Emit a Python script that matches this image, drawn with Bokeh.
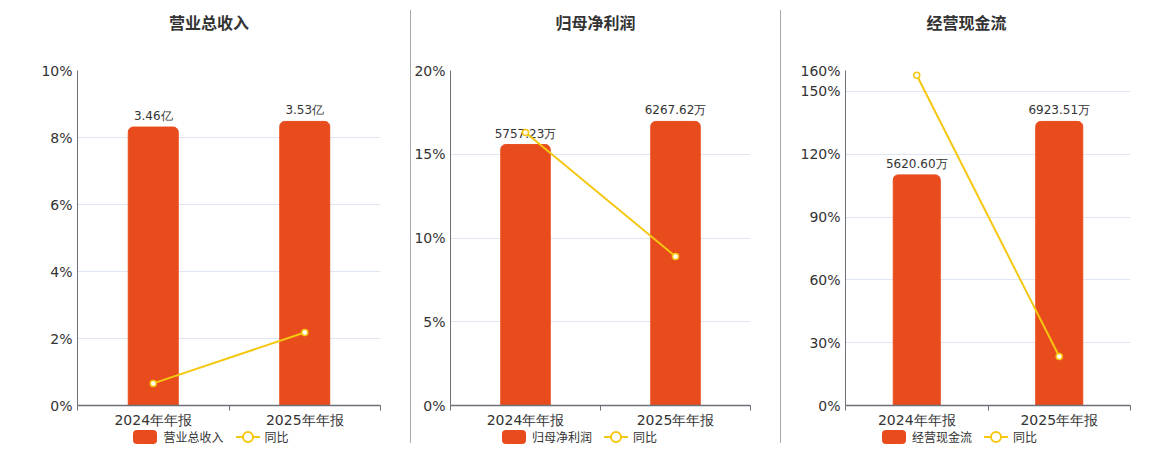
from bokeh.plotting import figure
from bokeh.layouts import row, column
from bokeh.models import (ColumnDataSource, Range1d, FixedTicker,
                          PrintfTickFormatter, Div)
from bokeh.embed import file_html
from bokeh.resources import INLINE

# ---------------- data ----------------
categories = ["2024年年报", "2025年年报"]

titles = ["营业总收入", "归母净利润", "经营现金流"]
yoy_name = "同比"

revenue = [3.46, 3.53]            # 亿
revenue_labels = ["3.46亿", "3.53亿"]
revenue_yoy = [0.66, 2.18]        # %

profit = [5757.23, 6267.62]       # 万
profit_labels = ["5757.23万", "6267.62万"]
profit_yoy = [16.3, 8.9]          # %

cash = [5620.60, 6923.51]         # 万
cash_labels = ["5620.60万", "6923.51万"]
cash_yoy = [157.7, 23.4]          # %

pct_ticks_1 = [0, 2, 4, 6, 8, 10]
pct_ticks_2 = [0, 5, 10, 15, 20]
pct_ticks_3 = [0, 30, 60, 90, 120, 150, 160]

# ---------------- style ----------------
BAR = "#E84C1D"
LINE = "#F5C710"
TXT = "#333333"
AXIS = "#6E7079"
GRID = "#E0E6F1"
FONT = "DejaVu Sans"
CJK = "Noto Sans CJK SC"


def title_div(text, width):
    return Div(text=text, width=width, height=28, margin=0,
               styles={"text-align": "center", "font-family": CJK,
                       "font-size": "16px", "font-weight": "bold",
                       "color": TXT, "line-height": "28px"})


def legend_div(name, width, shift):
    html = (
        f'<div style="display:flex;align-items:center;justify-content:center;'
        f'width:{width}px;height:14px;font-family:{CJK};font-size:12px;color:{TXT};'
        f'position:relative;left:{shift}px;">'
        f'<span style="display:inline-block;width:24px;height:14px;background:{BAR};'
        f'border-radius:4px;margin-right:6px;"></span>'
        f'<span style="margin-right:12px;">{name}</span>'
        f'<svg width="24" height="14" style="margin-right:5px;">'
        f'<line x1="0" y1="7" x2="24" y2="7" stroke="{LINE}" stroke-width="2"/>'
        f'<circle cx="12" cy="7" r="5" fill="white" stroke="{LINE}" stroke-width="2"/></svg>'
        f'<span>{yoy_name}</span></div>'
    )
    return Div(text=html, width=width, height=14, margin=0)


def panel(title, vals, labels, yoy, ticks, width, left, right, shift):
    n = len(categories)
    x = [i + 0.5 for i in range(n)]
    src = ColumnDataSource(dict(x=x, v=vals, lab=labels, yoy=yoy))
    p = figure(width=width, height=394, output_backend="svg", toolbar_location=None,
               x_range=Range1d(0, n), y_range=Range1d(0, ticks[-1]),
               min_border_left=left, min_border_right=right,
               min_border_top=34, min_border_bottom=25, margin=0)
    p.outline_line_color = None
    p.background_fill_color = "white"
    p.border_fill_color = "white"

    # hidden bar range
    p.extra_y_ranges = {"bar": Range1d(0, max(vals) / 0.848)}

    # axes
    p.yaxis.ticker = FixedTicker(ticks=ticks)
    p.yaxis.formatter = PrintfTickFormatter(format="%d%%")
    p.yaxis.axis_line_color = AXIS
    p.yaxis.major_tick_line_color = None
    p.yaxis.minor_tick_line_color = None
    p.yaxis.major_tick_out = 0
    p.yaxis.minor_tick_out = 0
    p.yaxis.major_label_text_font = FONT
    p.yaxis.major_label_text_font_size = "14px"
    p.yaxis.major_label_text_color = TXT
    p.yaxis.major_label_standoff = 5

    p.xaxis.ticker = FixedTicker(ticks=x, minor_ticks=list(range(n + 1)))
    p.xaxis.major_label_overrides = {xx: c for xx, c in zip(x, categories)}
    p.xaxis.axis_line_color = AXIS
    p.xaxis.axis_line_width = 1.5
    p.xaxis.major_tick_line_color = None
    p.xaxis.major_tick_out = 0
    p.xaxis.minor_tick_line_color = AXIS
    p.xaxis.minor_tick_out = 5
    p.xaxis.minor_tick_in = 0
    p.xaxis.major_label_text_font = FONT
    p.xaxis.major_label_text_font_size = "14px"
    p.xaxis.major_label_text_color = TXT
    p.xaxis.major_label_standoff = 1

    p.xgrid.grid_line_color = None
    p.ygrid.grid_line_color = GRID
    p.ygrid.ticker = FixedTicker(ticks=ticks)

    p.vbar(x="x", top="v", width=0.33, source=src, y_range_name="bar",
           fill_color=BAR, line_color=BAR, border_radius=(5, 5, 0, 0))
    p.text(x="x", y="v", text="lab", source=src, y_range_name="bar",
           text_align="center", text_baseline="bottom", y_offset=-4,
           text_font_size="12px", text_color=TXT, text_font={"value": FONT})

    p.line(x="x", y="yoy", source=src, line_color=LINE, line_width=2)
    p.scatter(x="x", y="yoy", source=src, size=6, fill_color="white",
              line_color=LINE, line_width=1.5)

    return column(title_div(title, width), p, legend_div(title, width, shift),
                  spacing=0, margin=0)


c1 = panel(titles[0], revenue, revenue_labels, revenue_yoy, pct_ticks_1, 402, 69, 30, 2)
c2 = panel(titles[1], profit, profit_labels, profit_yoy, pct_ticks_2, 369, 36, 30, -16)
c3 = panel(titles[2], cash, cash_labels, cash_yoy, pct_ticks_3, 371, 64, 22, -7)


def divider():
    return Div(width=1, height=433, margin=(2, 0, 0, 0),
               styles={"background-color": "#AAAAAA"})


layout = row(c1, divider(), c2, divider(), c3, spacing=0, margin=(8, 0, 0, 8))

open("out.html", "w").write(file_html(layout, INLINE))
